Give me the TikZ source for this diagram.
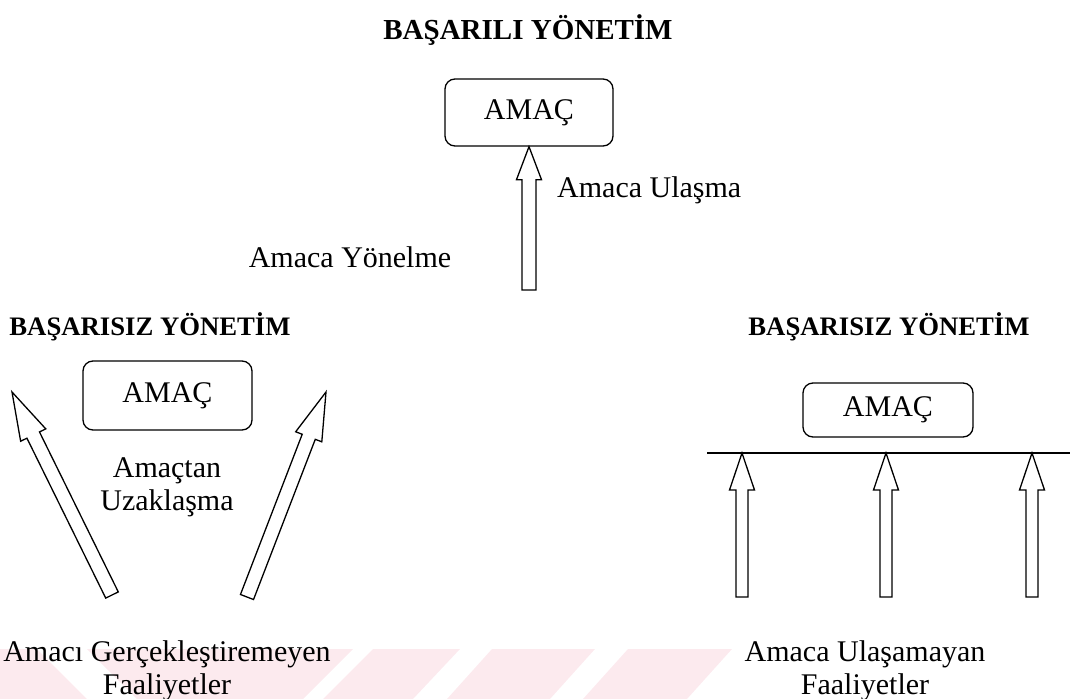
\documentclass[tikz,border=0pt]{standalone}
\usepackage{fontspec}
\setmainfont{Liberation Serif}
\usetikzlibrary{calc}
\definecolor{wm}{RGB}{252,234,238}
\tikzset{
  amacbox/.style={draw, line width=1.3pt, rounded corners=10pt, inner sep=0pt,
    font=\fontsize{30}{36}\selectfont},
  titletext/.style={font=\bfseries\fontsize{26.7}{32}\selectfont, inner sep=0pt},
  bodytext/.style={font=\fontsize{30}{33}\selectfont, inner sep=0pt, align=center},
  hollow/.style={draw, line width=1.3pt, line join=miter, fill=white},
}
% #1 tail, #2 tip, #3 head length, #4 shaft half-width, #5 head half-width
\newcommand\hollowarrow[5]{%
  \coordinate (hd) at ($(#2)!#3!(#1)$);
  \draw[hollow] ($(#1)!#4!90:(#2)$) -- ($(hd)!#4!-90:(#1)$) -- ($(hd)!#5!-90:(#1)$)
    -- (#2) -- ($(hd)!#5!90:(#1)$) -- ($(hd)!#4!90:(#1)$) -- ($(#1)!#4!-90:(#2)$) -- cycle;
}
\begin{document}
\begin{tikzpicture}[x=1pt,y=-1pt]
\useasboundingbox (0,0) rectangle (1072,699);
% watermark
\fill[wm] (0,649) -- (37,649) -- (87,699) -- (0,699) -- cycle;
\fill[wm] (87,649) -- (353,649) -- (303,699) -- (137,699) -- cycle;
\fill[wm] (373,649) -- (460,649) -- (413,699) -- (323,699) -- cycle;
\fill[wm] (492,649) -- (595,649) -- (550,699) -- (447,699) -- cycle;
\fill[wm] (628,649) -- (732,649) -- (687,699) -- (583,699) -- cycle;

% top: successful
\node[font=\bfseries\fontsize{29}{34}\selectfont, inner sep=0pt] (t1) at (528,30) {BAŞARILI YÖNETİM};
\node[amacbox, minimum width=168pt, minimum height=67pt] (a1) at (529,112.5) {AMAÇ};
\coordinate (t1tail) at (529,290);
\hollowarrow{t1tail}{a1.south}{33pt}{7pt}{12.5pt}
\node[bodytext, anchor=west] (ulasma) at (557,190) {Amaca Ulaşma};
\node[bodytext] (yonelme) at (350,257) {Amaca Yönelme};

% left: unsuccessful
\node[titletext] (t2) at (150,327) {BAŞARISIZ YÖNETİM};
\node[amacbox, minimum width=169pt, minimum height=69pt] (a2) at (167.5,395.5) {AMAÇ};
\node[bodytext] (uzak) at (167,487) {Amaçtan\\Uzaklaşma};
\coordinate (l1tail) at (112,595);
\coordinate (l1tip) at (12,392);
\coordinate (l2tail) at (247,597);
\coordinate (l2tip) at (326,392);
\hollowarrow{l1tail}{l1tip}{48pt}{7pt}{14pt}
\hollowarrow{l2tail}{l2tip}{48pt}{7pt}{14pt}
\node[bodytext] (gercek) at (167,671) {Amacı Gerçekleştiremeyen\\Faaliyetler};

% right: unsuccessful
\node[titletext] (t3) at (889,327) {BAŞARISIZ YÖNETİM};
\node[amacbox, minimum width=170pt, minimum height=54pt] (a3) at (888,410) {AMAÇ};
\coordinate (lineL) at (707,453);
\coordinate (lineR) at (1070,453);
\draw[line width=1.3pt] (lineL) -- (lineR);
\coordinate (r1tip) at (742,453);
\coordinate (r2tip) at (886,453);
\coordinate (r3tip) at (1032,453);
\coordinate (r1tail) at (742,597);
\coordinate (r2tail) at (886,597);
\coordinate (r3tail) at (1032,597);
\hollowarrow{r1tail}{r1tip}{37pt}{6pt}{12.5pt}
\hollowarrow{r2tail}{r2tip}{37pt}{6pt}{12.5pt}
\hollowarrow{r3tail}{r3tip}{37pt}{6pt}{12.5pt}
\node[bodytext] (ulasamayan) at (865,671) {Amaca Ulaşamayan\\Faaliyetler};
\end{tikzpicture}
\end{document}
